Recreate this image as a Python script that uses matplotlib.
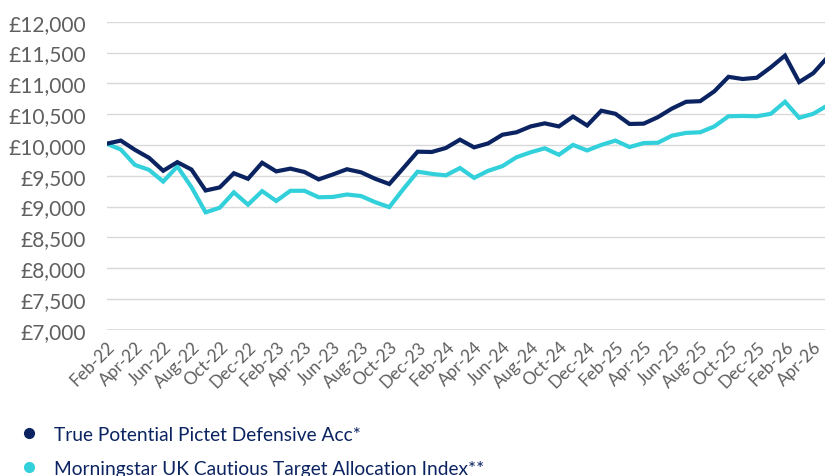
import pandas as pd
import matplotlib
matplotlib.use("Agg")
from matplotlib import pyplot as plt
from matplotlib.lines import Line2D
from matplotlib.ticker import FuncFormatter

# Monthly growth of £10,000, Feb-22 .. May-26 (last point runs off the right edge)
months = pd.date_range("2022-02-01", periods=52, freq="MS").strftime("%b-%y").tolist()

fund = [10020, 10070, 9920, 9790, 9580, 9720, 9600, 9260, 9310, 9540,
        9450, 9710, 9570, 9615, 9560, 9440, 9520, 9605, 9555, 9450,
        9365, 9625, 9890, 9885, 9950, 10085, 9960, 10025, 10165, 10205,
        10300, 10350, 10300, 10460, 10315, 10555, 10505, 10340, 10345, 10450,
        10590, 10700, 10710, 10870, 11105, 11070, 11090, 11260, 11450, 11020,
        11165, 11420]

benchmark = [10020, 9925, 9675, 9595, 9405, 9650, 9315, 8905, 8980, 9230,
             9030, 9250, 9090, 9255, 9255, 9150, 9155, 9195, 9170, 9070,
             8990, 9285, 9565, 9530, 9505, 9625, 9465, 9580, 9655, 9800,
             9880, 9945, 9840, 10000, 9910, 10000, 10070, 9965, 10030, 10035,
             10150, 10195, 10205, 10300, 10465, 10470, 10465, 10505, 10700, 10440,
             10505, 10640]

fund_name = "True Potential Pictet Defensive Acc*"
bench_name = "Morningstar UK Cautious Target Allocation Index**"

navy = "#0b2461"
cyan = "#31d0db"
grey_txt = "#5f5f5f"
grid_col = "#d9d9d9"

plt.rcParams["font.family"] = ["Lato", "DejaVu Sans"]

fig = plt.figure(figsize=(8.25, 4.77), dpi=100)
ax = fig.add_axes([0.1293, 0.3067, 1 - 0.1293, 0.9524 - 0.3067])

x = list(range(len(months)))
ax.plot(x, fund, color=navy, lw=3, solid_joinstyle="miter", zorder=3)
ax.plot(x, benchmark, color=cyan, lw=3, solid_joinstyle="miter", zorder=2)

ax.set_ylim(7000, 12000)
ax.set_yticks(range(7000, 12001, 500))
ax.yaxis.set_major_formatter(FuncFormatter(lambda v, p: "£{:,.0f}".format(v)))
ax.set_xlim(0, 50.83)
ax.set_xticks(x[0:51:2])
ax.set_xticklabels(months[0:51:2], rotation=45, ha="right", rotation_mode="anchor")

ax.grid(axis="y", color=grid_col, lw=1)
ax.set_axisbelow(True)
for s in ax.spines.values():
    s.set_visible(False)
ax.axhline(7000, color=grid_col, lw=2, zorder=1)

ax.tick_params(axis="y", length=0, pad=15, labelsize=15, labelcolor=grey_txt)
ax.tick_params(axis="x", length=0, pad=6, labelsize=12.5, labelcolor=grey_txt)

handles = [Line2D([], [], marker="o", ls="none", color=navy, markersize=7),
           Line2D([], [], marker="o", ls="none", color=cyan, markersize=7)]
leg = fig.legend(handles, [fund_name, bench_name], loc="upper left",
                 bbox_to_anchor=(0.0145, 0.121), frameon=False, fontsize=13.8,
                 handlelength=1.0, handletextpad=0.8, labelspacing=0.9,
                 borderaxespad=0)
for t in leg.get_texts():
    t.set_color(navy)

fig.savefig("out.png", dpi=100)
